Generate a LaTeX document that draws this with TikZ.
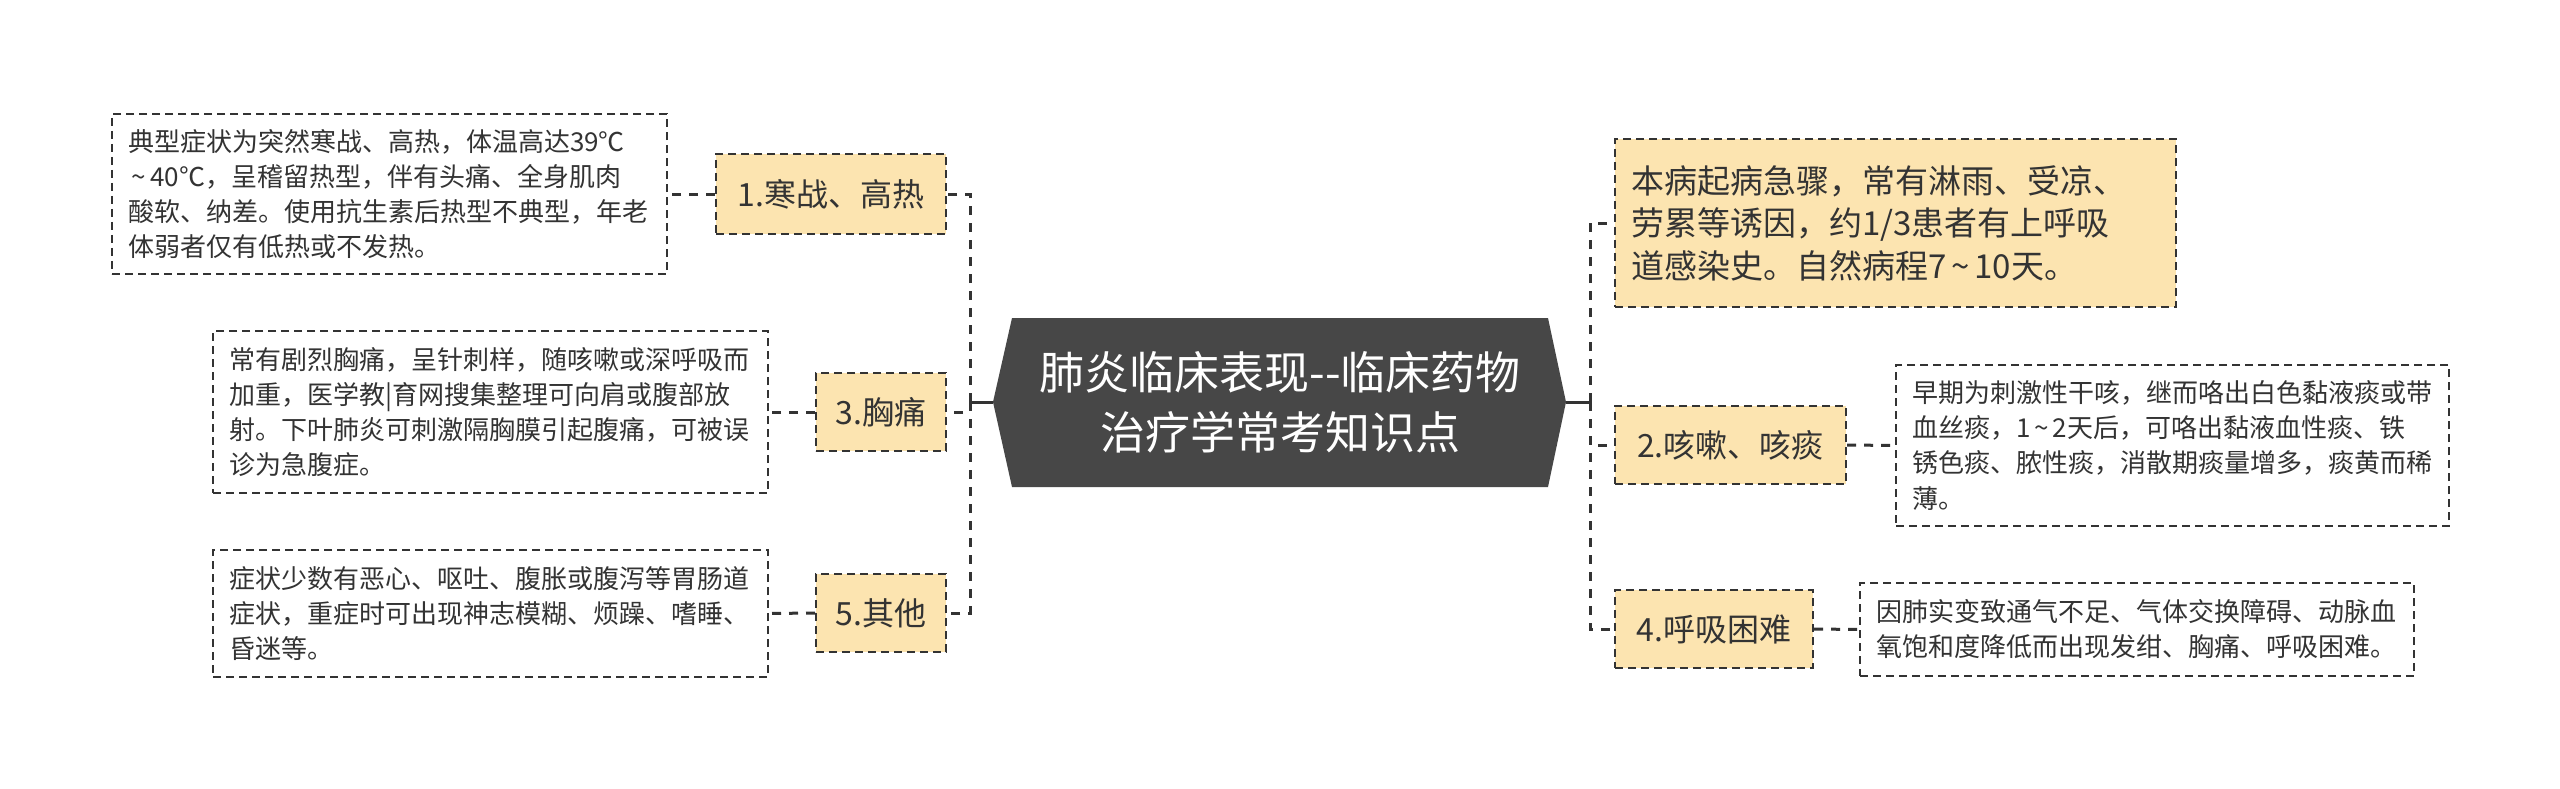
\documentclass[tikz,border=0pt]{standalone}
\usepackage{fontspec}
\newfontfamily\cjk{Noto Sans CJK SC}
\definecolor{boxfill}{HTML}{FCE4B0}
\definecolor{dark}{HTML}{333333}
\definecolor{titlefill}{HTML}{474747}
\newcommand{\tld}{\hspace{0.15em}\char"007E\relax\hspace{0.15em}}
\tikzset{
  detail/.style={draw=dark, line width=2pt, dash pattern=on 8pt off 5pt,
    align=left, anchor=north west, inner xsep=16pt, inner ysep=0pt,
    font=\cjk\fontsize{26}{35}\selectfont, text=dark},
  branch/.style={draw=dark, fill=boxfill, line width=2pt, dash pattern=on 8pt off 5pt,
    anchor=north west, inner xsep=0pt, inner ysep=0pt, minimum height=78pt,
    font=\cjk\fontsize{32}{38}\selectfont, text=dark},
  conn/.style={draw=dark, line width=3pt, dash pattern=on 9pt off 8pt},
  trunk/.style={draw=dark, line width=3pt}
}
\begin{document}
\begin{tikzpicture}[x=1pt,y=-1pt]
\fill[white] (0,0) rectangle (2560,789);
\useasboundingbox (0,0) rectangle (2560,789);

% central title
\coordinate (cl) at (993,402);
\coordinate (cr) at (1566,402);
\coordinate (ctl) at (1012,318);
\coordinate (ctr) at (1548,318);
\coordinate (cbl) at (1012,487);
\coordinate (cbr) at (1548,487);
\fill[titlefill] (cl) -- (ctl) -- (ctr) -- (cr) -- (cbr) -- (cbl) -- cycle;
\node[text=white, align=center, font=\cjk\fontsize{45}{60}\selectfont] (title) at (1280,402)
  {肺炎临床表现-{}-临床药物\\治疗学常考知识点};

% left branches
\node[branch, minimum width=230pt, minimum height=80pt] (b1) at (715,153) {1.寒战、高热};
\node[branch, minimum width=130pt] (b3) at (815,372) {3.胸痛};
\node[branch, minimum width=130pt] (b5) at (815,573) {5.其他};

\node[detail, text width=523pt, minimum height=160pt] (t1) at (111,113)
  {典型症状为突然寒战、高热，体温高达39℃\\\tld 40℃，呈稽留热型，伴有头痛、全身肌肉\\酸软、纳差。使用抗生素后热型不典型，年老\\体弱者仅有低热或不发热。};
\node[detail, text width=523pt, minimum height=162pt] (t3) at (212,330)
  {常有剧烈胸痛，呈针刺样，随咳嗽或深呼吸而\\加重，医学教|育网搜集整理可向肩或腹部放\\射。下叶肺炎可刺激隔胸膜引起腹痛，可被误\\诊为急腹症。};
\node[detail, text width=523pt, minimum height=127pt] (t5) at (212,549)
  {症状少数有恶心、呕吐、腹胀或腹泻等胃肠道\\症状，重症时可出现神志模糊、烦躁、嗜睡、\\昏迷等。};

% right branches
\node[detail, fill=boxfill, text width=529pt, minimum height=168pt,
  font=\cjk\fontsize{33}{42.5}\selectfont] (rt) at (1614,138)
  {本病起病急骤，常有淋雨、受凉、\\劳累等诱因，约1/3患者有上呼吸\\道感染史。自然病程7\tld 10天。};
\node[branch, minimum width=231pt] (b2) at (1614,405) {2.咳嗽、咳痰};
\node[branch, minimum width=198pt] (b4) at (1614,589) {4.呼吸困难};

\node[detail, text width=521pt, minimum height=161pt] (t2) at (1895,364)
  {早期为刺激性干咳，继而咯出白色黏液痰或带\\血丝痰，1\tld 2天后，可咯出黏液血性痰、铁\\锈色痰、脓性痰，消散期痰量增多，痰黄而稀\\薄。};
\node[detail, text width=522pt, minimum height=93pt] (t4) at (1859,582)
  {因肺实变致通气不足、气体交换障碍、动脉血\\氧饱和度降低而出现发绀、胸痛、呼吸困难。};

% connectors
\coordinate (lj) at (970,402);
\coordinate (rj) at (1590,402);
\draw[trunk] (cl) -- (lj);
\draw[trunk] (cr) -- (rj);
\draw[conn] (lj) |- (b1.east);
\draw[conn] (lj) |- (b3.east);
\draw[conn] (lj) |- (b5.east);
\draw[conn] (rj) |- (rt.west);
\draw[conn] (rj) |- (b2.west);
\draw[conn] (rj) |- (b4.west);
\draw[conn] (b1.west) -- (t1.east);
\draw[conn] (b3.west) -- (t3.east);
\draw[conn] (b5.west) -- (t5.east);
\draw[conn] (b2.east) -- (t2.west);
\draw[conn] (b4.east) -- (t4.west);
\end{tikzpicture}
\end{document}
